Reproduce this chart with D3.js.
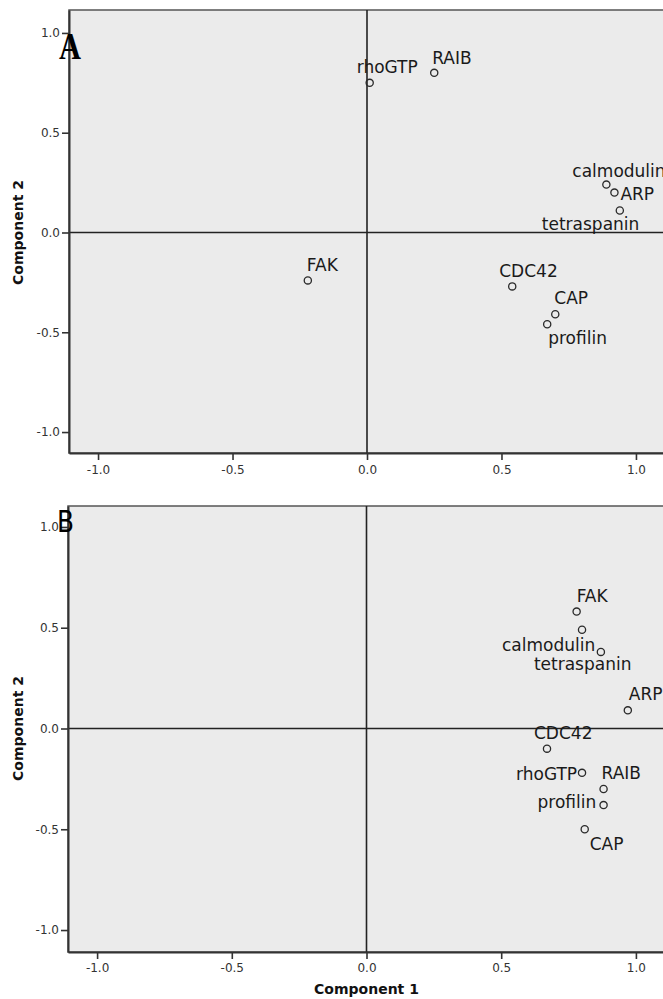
<!DOCTYPE html>
<html>
<head>
<meta charset="utf-8">
<script src="https://cdn.jsdelivr.net/npm/d3@7"></script>
<style>
  html, body { margin: 0; padding: 0; background: #fff; }
  svg { display: block; }
</style>
</head>
<body>
<svg id="chart" width="663" height="999"></svg>
<script>
// Component loadings of each protein variable, two rotated solutions (A and B)
const variables = ["rhoGTP", "RAIB", "calmodulin", "ARP", "tetraspanin", "FAK", "CDC42", "CAP", "profilin"];

const loadingsA1 = [0.01, 0.25, 0.89, 0.92, 0.94, -0.22, 0.54, 0.70, 0.67];
const loadingsA2 = [0.75, 0.80, 0.24, 0.20, 0.11, -0.24, -0.27, -0.41, -0.46];

const loadingsB1 = [0.80, 0.88, 0.80, 0.97, 0.87, 0.78, 0.67, 0.81, 0.88];
const loadingsB2 = [-0.22, -0.30, 0.49, 0.09, 0.38, 0.58, -0.10, -0.50, -0.38];

const tickValues = [-1.0, -0.5, 0.0, 0.5, 1.0];
const tickLabels = ["-1.0", "-0.5", "0.0", "0.5", "1.0"];

const panelNames = ["A", "B"];
const xTitle = "Component 1";
const yTitle = "Component 2";

// Label placement (pixel offset of the label's start/baseline from its point)
const labelOffsetsA = {
  rhoGTP: [-13, -10], RAIB: [-2, -9], calmodulin: [-34, -8], ARP: [6, 7],
  tetraspanin: [-78, 19], FAK: [-1, -9], CDC42: [-13, -9], CAP: [-1, -10], profilin: [1, 20]
};
const labelOffsetsB = {
  rhoGTP: [-66, 7], RAIB: [-2, -10], calmodulin: [-80, 21], ARP: [1, -10],
  tetraspanin: [-67, 18], FAK: [0, -10], CDC42: [-13, -10], CAP: [5, 21], profilin: [-66, 3]
};

const svg = d3.select("#chart");

const panels = [
  { name: panelNames[0], c1: loadingsA1, c2: loadingsA2, offsets: labelOffsetsA,
    left: 69, right: 665, top: 10, bottom: 453, yDomain: [-1.105, 1.115],
    letterFont: "'Liberation Serif', 'DejaVu Serif', serif", letterSize: 38, letterWeight: "bold",
    letterX: 59, letterY: 59, letterW: 22, xTitle: false },
  { name: panelNames[1], c1: loadingsB1, c2: loadingsB2, offsets: labelOffsetsB,
    left: 68, right: 665, top: 506, bottom: 952, yDomain: [-1.109, 1.104],
    letterFont: "'DejaVu Sans', sans-serif", letterSize: 31, letterWeight: "normal",
    letterX: 57, letterY: 532, letterW: 17, xTitle: true }
];

const fmt = v => tickLabels[tickValues.indexOf(v)];

panels.forEach(p => {
  const x = d3.scaleLinear().domain([-1.108, 1.108]).range([p.left, p.right]);
  const y = d3.scaleLinear().domain(p.yDomain).range([p.bottom, p.top]);
  const g = svg.append("g");

  // plot background and frame
  g.append("rect")
    .attr("x", p.left).attr("y", p.top)
    .attr("width", p.right - p.left).attr("height", p.bottom - p.top)
    .attr("fill", "#ebebeb")
    .attr("stroke", "#555").attr("stroke-width", 1.5);

  // reference lines through the origin
  g.append("line")
    .attr("x1", x(0)).attr("x2", x(0)).attr("y1", p.top).attr("y2", p.bottom)
    .attr("stroke", "#222").attr("stroke-width", 1.6);
  g.append("line")
    .attr("x1", p.left).attr("x2", p.right).attr("y1", y(0)).attr("y2", y(0))
    .attr("stroke", "#222").attr("stroke-width", 1.6);

  // axes
  const yAxis = g.append("g")
    .attr("transform", `translate(${p.left},0)`)
    .call(d3.axisLeft(y).tickValues(tickValues).tickFormat(fmt)
      .tickSize(7).tickSizeOuter(0).tickPadding(2));
  const xAxis = g.append("g")
    .attr("transform", `translate(0,${p.bottom})`)
    .call(d3.axisBottom(x).tickValues(tickValues).tickFormat(fmt)
      .tickSize(7).tickSizeOuter(0).tickPadding(p.xTitle ? 4.5 : 5.5));

  [yAxis, xAxis].forEach(ax => {
    ax.select(".domain").attr("stroke", "#333").attr("stroke-width", 2);
    ax.selectAll(".tick line").attr("stroke", "#333").attr("stroke-width", 1.6);
    ax.selectAll(".tick text")
      .attr("fill", "#333")
      .style("font-family", "'DejaVu Sans', sans-serif")
      .style("font-size", "12px");
  });

  // points
  const pts = variables.map((v, i) => ({ name: v, c1: p.c1[i], c2: p.c2[i] }));
  g.selectAll("circle.pt").data(pts).join("circle")
    .attr("class", "pt")
    .attr("cx", d => x(d.c1)).attr("cy", d => y(d.c2))
    .attr("r", 3.6)
    .attr("fill", "none")
    .attr("stroke", "#2a2a2a").attr("stroke-width", 1.3);

  // point labels
  g.selectAll("text.lbl").data(pts).join("text")
    .attr("class", "lbl")
    .attr("x", d => x(d.c1) + p.offsets[d.name][0])
    .attr("y", d => y(d.c2) + p.offsets[d.name][1])
    .attr("fill", "#1a1a1a")
    .style("font-family", "'DejaVu Sans', sans-serif")
    .style("font-size", "17px")
    .text(d => d.name);

  // y axis title
  g.append("text")
    .attr("transform", `translate(23,${y(0)}) rotate(-90)`)
    .attr("text-anchor", "middle")
    .attr("fill", "#111")
    .style("font-family", "'DejaVu Sans', sans-serif")
    .style("font-size", "14px").style("font-weight", "bold")
    .text(yTitle);

  if (p.xTitle) {
    g.append("text")
      .attr("x", x(0)).attr("y", 994)
      .attr("text-anchor", "middle")
      .attr("fill", "#111")
      .style("font-family", "'DejaVu Sans', sans-serif")
      .style("font-size", "14px").style("font-weight", "bold")
      .text(xTitle);
  }

  // panel letter
  g.append("text")
    .attr("x", p.letterX).attr("y", p.letterY)
    .attr("textLength", p.letterW).attr("lengthAdjust", "spacingAndGlyphs")
    .attr("fill", "#000")
    .style("font-family", p.letterFont)
    .style("font-size", p.letterSize + "px")
    .style("font-weight", p.letterWeight)
    .text(p.name);
});
</script>
</body>
</html>
